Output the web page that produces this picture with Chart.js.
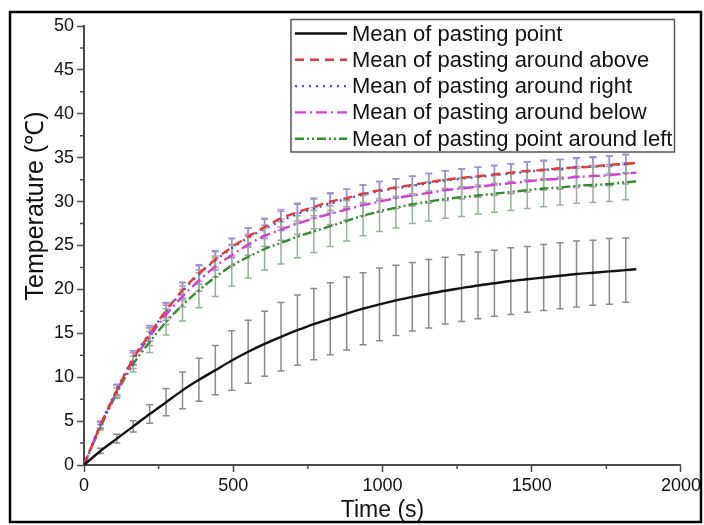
<!DOCTYPE html>
<html><head><meta charset="utf-8">
<script src="https://cdn.jsdelivr.net/npm/chart.js@4.4.1/dist/chart.umd.min.js"></script>
<style>html,body{margin:0;padding:0;background:#fff;overflow:hidden}canvas{display:block}</style>
</head><body>
<canvas id="c" width="704" height="525"></canvas>
<script>
// ---- data ----
const times = [0,55,110,165,220,275,330,385,440,495,550,605,660,715,770,825,880,935,990,1045,1100,1155,1210,1265,1320,1375,1430,1485,1540,1595,1650,1705,1760,1815,1850];
const seriesLabels = ['Mean of pasting point','Mean of pasting around above','Mean of pasting around right','Mean of pasting around below','Mean of pasting point around left'];
const pointMean = [0,1.6,3.0,4.4,5.8,7.15,8.5,9.7,10.8,11.9,12.9,13.8,14.6,15.35,16.05,16.65,17.25,17.8,18.3,18.75,19.15,19.5,19.85,20.15,20.45,20.7,20.95,21.15,21.35,21.55,21.75,21.9,22.05,22.2,22.3];
const pointErr  = [0,0.3,0.5,0.65,1.05,1.55,2.1,2.45,2.8,3.4,3.6,3.7,3.9,4.0,4.05,4.1,4.15,4.1,4.15,4.0,3.9,3.9,3.8,3.8,3.8,3.75,3.8,3.75,3.75,3.75,3.75,3.7,3.75,3.65,null];
const aboveMean = [0,4.5,8.5,12.1,14.9,17.6,19.9,21.8,23.4,24.8,26.0,27.1,28.1,28.8,29.4,30.0,30.4,30.9,31.3,31.6,31.9,32.2,32.5,32.7,32.9,33.1,33.3,33.5,33.6,33.8,33.9,34.0,34.2,34.3,34.4];
const aboveErr  = [0,0.4,0.6,0.7,0.8,0.8,0.9,0.9,0.9,1.0,1.0,1.0,1.0,1.0,1.0,1.0,1.0,1.0,1.0,1.0,1.0,1.0,1.0,1.0,1.0,1.0,1.0,1.0,1.0,1.0,1.0,1.0,1.0,1.0,null];
const rightMean = [0,4.6,8.6,12.2,15.0,17.5,19.8,21.7,23.3,24.7,25.9,26.9,27.8,28.6,29.2,29.8,30.3,30.8,31.2,31.5,31.8,32.1,32.4,32.6,32.8,33.0,33.2,33.4,33.6,33.7,33.9,34.0,34.1,34.3,34.4];
const rightErr  = [0,0.4,0.6,0.8,0.9,1.0,1.0,1.1,1.1,1.1,1.1,1.1,1.1,1.1,1.1,1.1,1.1,1.1,1.1,1.1,1.1,1.1,1.1,1.1,1.1,1.1,1.1,1.1,1.1,1.1,1.1,1.1,1.1,1.1,null];
const belowMean = [0,4.5,8.4,11.9,14.6,17.1,19.2,21.0,22.6,23.9,25.1,26.1,26.8,27.5,28.1,28.6,29.1,29.6,30.0,30.4,30.7,31.0,31.3,31.5,31.7,31.9,32.1,32.3,32.5,32.6,32.8,32.9,33.0,33.2,33.3];
const belowErr  = [0,0.4,0.7,0.9,1.0,1.1,1.2,1.2,1.2,1.2,1.2,1.2,1.2,1.2,1.2,1.2,1.2,1.2,1.2,1.2,1.2,1.2,1.2,1.2,1.2,1.2,1.2,1.2,1.2,1.2,1.2,1.2,1.2,1.2,null];
const leftMean  = [0,4.3,8.2,11.5,14.0,16.3,18.2,19.9,21.4,22.7,23.7,24.6,25.3,26.0,26.6,27.2,27.8,28.4,28.9,29.3,29.7,30.0,30.3,30.5,30.7,30.9,31.1,31.3,31.5,31.6,31.8,31.9,32.0,32.2,32.3];
const leftErr   = [0,0.3,0.6,0.9,1.2,1.5,1.8,2.0,2.2,2.3,2.4,2.4,2.4,2.4,2.4,2.3,2.3,2.3,2.3,2.3,2.2,2.2,2.2,2.2,2.1,2.1,2.1,2.1,2.1,2.0,2.0,2.0,2.0,2.0,null];
const xTicks = [0,500,1000,1500,2000];
const xMinorTicks = [250,750,1250,1750];
const yTicks = [0,5,10,15,20,25,30,35,40,45,50];
const yMinorTicks = [2.5,7.5,12.5,17.5,22.5,27.5,32.5,37.5,42.5,47.5];
const xTitle = 'Time (s)';
const yTitle = 'Temperature (\u2103)';

// ---- styles ----
const FONT = "'Liberation Sans', Arial, Helvetica, sans-serif";
const meanSets = [pointMean, aboveMean, rightMean, belowMean, leftMean];
const errSets = [pointErr, aboveErr, rightErr, belowErr, leftErr];
const looks = [
  {color:'#111111', dash:[], width:2.4, err:'#8a8a8a'},
  {color:'#e0393b', dash:[9,6], width:2.4, err:'#b99aa8'},
  {color:'#4b4fd6', dash:[2,5], width:2.4, err:'#8f95cf'},
  {color:'#d43fd4', dash:[11,4,2,4], width:2.4, err:'#bb92bb'},
  {color:'#2f8f2f', dash:[9,3,2,3,2,3], width:2.4, err:'#94b394'}
];

const datasets = meanSets.map((m, i) => ({
  label: seriesLabels[i],
  data: times.map((t, j) => ({x: t, y: m[j]})),
  errors: errSets[i],
  errColor: looks[i].err,
  borderColor: looks[i].color,
  backgroundColor: looks[i].color,
  borderDash: looks[i].dash,
  borderWidth: looks[i].width,
  pointRadius: 0,
  fill: false,
  cubicInterpolationMode: 'monotone'
}));

const AXIS = '#4a4a4a';

const framePlugin = {
  id: 'frame',
  beforeDraw(chart) {
    const ctx = chart.ctx;
    ctx.save(); ctx.fillStyle = '#fff'; ctx.fillRect(0, 0, chart.width, chart.height); ctx.restore();
  },
  afterDraw(chart) {
    const ctx = chart.ctx;
    ctx.save();
    ctx.strokeStyle = '#000'; ctx.lineWidth = 2.5;
    ctx.strokeRect(10, 12, 691, 510);
    ctx.restore();
  }
};

const errorBarPlugin = {
  id: 'errorBars',
  beforeDatasetsDraw(chart) {
    const ctx = chart.ctx, xs = chart.scales.x, ys = chart.scales.y;
    ctx.save();
    ctx.lineWidth = 1.5;
    chart.data.datasets.forEach(ds => {
      ctx.strokeStyle = ds.errColor;
      ds.data.forEach((p, j) => {
        const e = ds.errors[j];
        if (!e) return;
        const x = xs.getPixelForValue(p.x);
        const y1 = ys.getPixelForValue(p.y + e), y2 = ys.getPixelForValue(p.y - e);
        ctx.beginPath();
        ctx.moveTo(x, y1); ctx.lineTo(x, y2);
        ctx.moveTo(x - 3.5, y1); ctx.lineTo(x + 3.5, y1);
        ctx.moveTo(x - 3.5, y2); ctx.lineTo(x + 3.5, y2);
        ctx.stroke();
      });
    });
    ctx.restore();
  }
};

const minorTickPlugin = {
  id: 'minorTicks',
  afterDraw(chart) {
    const ctx = chart.ctx, xs = chart.scales.x, ys = chart.scales.y, a = chart.chartArea;
    ctx.save();
    ctx.strokeStyle = AXIS; ctx.lineWidth = 1.5;
    ctx.beginPath();
    xMinorTicks.forEach(v => { const x = xs.getPixelForValue(v); ctx.moveTo(x, a.bottom); ctx.lineTo(x, a.bottom + 4); });
    yMinorTicks.forEach(v => { const y = ys.getPixelForValue(v); ctx.moveTo(a.left, y); ctx.lineTo(a.left - 4, y); });
    ctx.stroke();
    // y axis title
    ctx.fillStyle = '#111';
    ctx.font = '25px ' + FONT;
    ctx.textAlign = 'center'; ctx.textBaseline = 'alphabetic';
    ctx.translate(43, ys.getPixelForValue(29.5));
    ctx.rotate(-Math.PI / 2);
    ctx.fillText(yTitle, 0, 0);
    ctx.restore();
  }
};

const legendPlugin = {
  id: 'boxLegend',
  afterDraw(chart) {
    const ctx = chart.ctx, a = chart.chartArea;
    const bx = a.right - 390, by = a.top - 6.5, bw = 383.5, bh = 132.5;
    ctx.save();
    ctx.fillStyle = '#fff';
    ctx.fillRect(bx, by, bw, bh);
    ctx.strokeStyle = '#555'; ctx.lineWidth = 1.5;
    ctx.strokeRect(bx, by, bw, bh);
    ctx.font = '22px ' + FONT;
    ctx.textBaseline = 'middle'; ctx.textAlign = 'left';
    chart.data.datasets.forEach((ds, i) => {
      const y = by + 14 + i * 26.3;
      ctx.strokeStyle = ds.borderColor; ctx.lineWidth = ds.borderWidth;
      ctx.setLineDash(ds.borderDash);
      ctx.beginPath(); ctx.moveTo(bx + 4, y); ctx.lineTo(bx + 56, y); ctx.stroke();
      ctx.setLineDash([]);
      ctx.fillStyle = '#111';
      ctx.fillText(ds.label, bx + 61, y + 1);
    });
    ctx.restore();
  }
};

new Chart(document.getElementById('c'), {
  type: 'line',
  data: { datasets },
  options: {
    responsive: false,
    animation: false,
    devicePixelRatio: 1,
    layout: { padding: { top: 26, right: 21, bottom: 0, left: 0 } },
    plugins: { legend: { display: false }, tooltip: { enabled: false } },
    scales: {
      x: {
        type: 'linear', min: 0, max: 2000,
        afterBuildTicks: s => { s.ticks = xTicks.map(v => ({value: v})); },
        afterFit: s => { s.height = 60; },
        grid: { drawOnChartArea: false, tickLength: 7, tickWidth: 1.5, color: AXIS },
        border: { display: true, color: AXIS, width: 2 },
        ticks: { color: '#111', padding: 3, font: { size: 18, family: FONT }, maxRotation: 0, callback: v => String(v) },
        title: { display: true, text: xTitle, color: '#111', font: { size: 23, family: FONT }, padding: { top: 0, bottom: 1 } }
      },
      y: {
        type: 'linear', min: 0, max: 50,
        afterBuildTicks: s => { s.ticks = yTicks.map(v => ({value: v})); },
        afterFit: s => { s.width = 84; },
        grid: { drawOnChartArea: false, tickLength: 7, tickWidth: 1.5, color: AXIS },
        border: { display: true, color: AXIS, width: 2 },
        ticks: { color: '#111', padding: 3, font: { size: 18, family: FONT }, callback: v => String(v) }
      }
    }
  },
  plugins: [framePlugin, errorBarPlugin, minorTickPlugin, legendPlugin]
});
</script>
</body></html>
